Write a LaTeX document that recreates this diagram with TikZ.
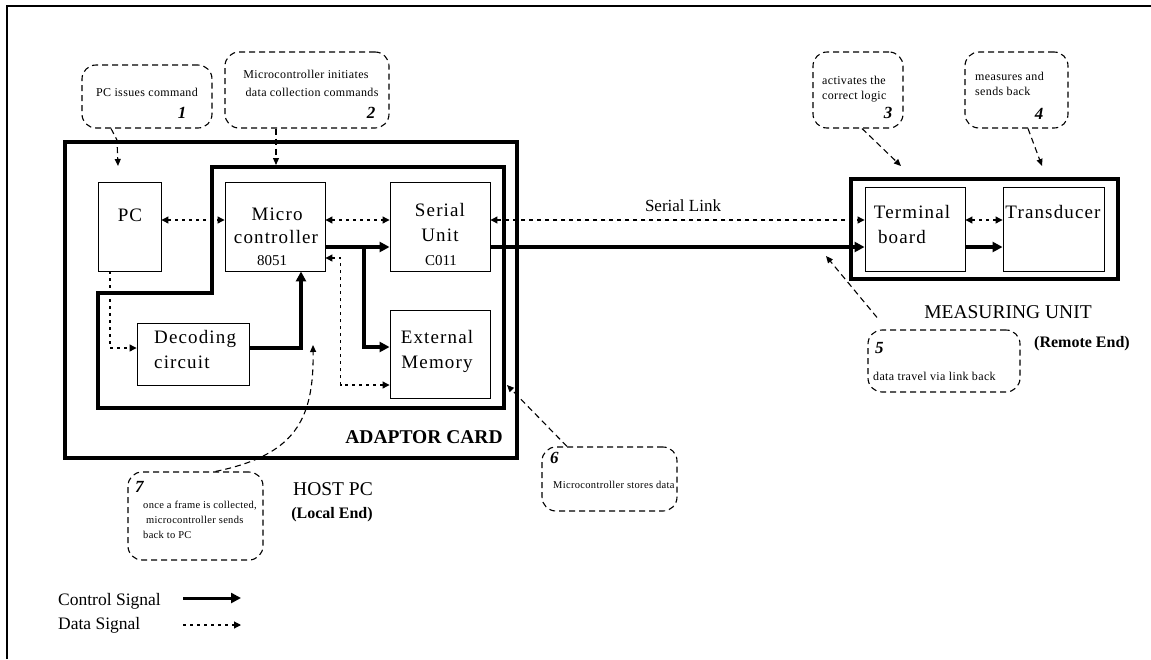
\documentclass[tikz,border=0pt]{standalone}
\usepackage{fontspec}
\setmainfont{Liberation Serif}
\usetikzlibrary{arrows.meta,calc}
\newcommand\bxf{\fontsize{19}{22}\selectfont\addfontfeature{LetterSpace=6}}
\newcommand\smf{\fontsize{15}{18}\selectfont}
\newcommand\cof{\fontsize{12}{14}\selectfont\addfontfeature{LetterSpace=3}}
\newcommand\csf{\fontsize{10.5}{13}\selectfont\addfontfeature{LetterSpace=3}}
\newcommand\nmf{\fontsize{17}{20}\selectfont\bfseries\itshape}
\newcommand\lbf{\fontsize{19.5}{23}\selectfont}
\newcommand\lbb{\fontsize{16}{19}\selectfont\bfseries}
\newcommand\lgf{\fontsize{17.5}{20}\selectfont}
\begin{document}
\begin{tikzpicture}[x=1pt,y=-1pt,
  frame/.style={draw, line width=3.5pt, inner sep=0pt},
  box/.style={draw, line width=0.9pt, inner sep=0pt},
  txt/.style={inner sep=0pt, anchor=base},
  ctrl/.style={line width=3.5pt, -{Triangle[length=10pt,width=10pt]}},
  data/.style={line width=1.1pt, dash pattern=on 3pt off 4pt, {Triangle[length=7pt,width=7pt]}-{Triangle[length=7pt,width=7pt]}},
  data1/.style={line width=1.1pt, dash pattern=on 3pt off 4pt, -{Triangle[length=7pt,width=7pt]}},
  callout/.style={draw, line width=1.1pt, dash pattern=on 6pt off 4pt, rounded corners=14pt, inner sep=0pt},
  pointer/.style={line width=1.1pt, dash pattern=on 6pt off 4pt, -{Triangle[length=7pt,width=6pt]}}]

\path[use as bounding box] (0,0) rectangle (1151,659);
\draw[line width=2pt] (7,659) -- (7,6) -- (1152,6);

% frames
\node[frame, minimum width=452pt, minimum height=316pt] (host) at (291,300) {};
\draw[line width=3.5pt] (212,167) -- (504,167) -- (504,408) -- (98,408) -- (98,293) -- (212,293) -- cycle;
\node[frame, line width=4pt, minimum width=267pt, minimum height=100pt] (meas) at (984.5,229) {};

% boxes
\node[box, minimum width=63pt, minimum height=89pt] (pc) at (129.5,226.5) {};
\node[box, minimum width=100pt, minimum height=89pt] (mc) at (275,226.5) {};
\node[box, minimum width=100pt, minimum height=89pt] (su) at (440,226.5) {};
\node[box, minimum width=100pt, minimum height=88pt] (em) at (440,354) {};
\node[box, minimum width=112pt, minimum height=62pt] (dc) at (193,354) {};
\node[box, minimum width=100pt, minimum height=84pt] (tb) at (915,229) {};
\node[box, minimum width=101pt, minimum height=84pt] (td) at (1053.5,229) {};

% box texts
\node[txt, font=\bxf] (pct) at (130,221) {PC};
\node[txt, font=\bxf] (mct1) at (277,220) {Micro};
\node[txt, font=\bxf] (mct2) at (276,243) {controller};
\node[txt, font=\smf] (mct3) at (272,265) {8051};
\node[txt, font=\bxf] (sut1) at (440,216) {Serial};
\node[txt, font=\bxf] (sut2) at (440,241) {Unit};
\node[txt, font=\smf] (sut3) at (441,265) {C011};
\node[txt, font=\bxf] (emt1) at (437,343) {External};
\node[txt, font=\bxf] (emt2) at (437,368) {Memory};
\node[txt, font=\bxf, anchor=base west] (dct1) at (154,343) {Decoding};
\node[txt, font=\bxf, anchor=base west] (dct2) at (154,368) {circuit};
\node[txt, font=\bxf] (tbt1) at (912,218) {Terminal};
\node[txt, font=\bxf] (tbt2) at (902,243) {board};
\node[txt, font=\bxf] (tdt) at (1053,218) {Transducer};

% labels
\node[txt, font=\lbf\bfseries] (adl) at (424,443) {ADAPTOR CARD};
\node[txt, font=\lbf] (hostl) at (333,495) {HOST PC};
\node[txt, font=\lbb] (locl) at (332,518) {(Local End)};
\node[txt, font=\lbf] (measl) at (1008,318) {MEASURING UNIT};
\node[txt, font=\lbb] (reml) at (1082,347) {(Remote End)};
\node[txt, font=\fontsize{17}{20}\selectfont] (sll) at (683,211) {Serial Link};

% data connectors
\coordinate (r1) at (0,220);
\coordinate (r2) at (0,247);
\draw[data] (pc.east |- r1) -- (mc.west |- r1);
\draw[data] (mc.east |- r1) -- (su.west |- r1);
\draw[data, dash pattern=on 4pt off 4pt] (su.east |- r1) -- (tb.west |- r1);
\draw[data] (tb.east |- r1) -- (td.west |- r1);
\draw[data1] ([xshift=-19.5pt]pc.south) |- ([yshift=6pt]dc.west);
\draw[data] ([yshift=-31pt]em.west) -- ++(-49,0) |- ([yshift=-31.5pt]mc.east);

% control connectors
\draw[ctrl] (mc.east |- r2) -- (su.west |- r2);
\coordinate (br) at (364,245.5);
\draw[ctrl] (br) |- ([yshift=7pt]em.west);
\draw[ctrl] (su.east |- r2) -- (tb.west |- r2);
\draw[ctrl] (tb.east |- r2) -- (td.west |- r2);
\draw[ctrl] ([yshift=6pt]dc.east) -| ([xshift=26pt]mc.south);

% callouts
\node[callout, minimum width=130pt, minimum height=63pt] (co1) at (147,96.5) {};
\node[callout, minimum width=164pt, minimum height=76pt] (co2) at (307,90) {};
\node[callout, minimum width=90pt, minimum height=76pt] (co3) at (858,90) {};
\node[callout, minimum width=103pt, minimum height=76pt] (co4) at (1016.5,90) {};
\node[callout, minimum width=152pt, minimum height=62pt] (co5) at (944,361) {};
\node[callout, minimum width=135pt, minimum height=64pt] (co6) at (609.5,479) {};
\node[callout, minimum width=135pt, minimum height=88pt] (co7) at (195.5,516) {};

\node[txt, font=\cof] (t1) at (147,96) {PC issues command};
\node[txt, font=\nmf] (n1) at (182,118) {1};
\node[txt, font=\cof] (t2a) at (306,78) {Microcontroller initiates};
\node[txt, font=\cof] (t2b) at (312,96) {data collection commands};
\node[txt, font=\nmf] (n2) at (371,118) {2};
\node[txt, font=\cof, anchor=base west] (t3a) at (822,84) {activates the};
\node[txt, font=\cof, anchor=base west] (t3b) at (822,99) {correct logic};
\node[txt, font=\nmf] (n3) at (888,118) {3};
\node[txt, font=\cof, anchor=base west] (t4a) at (975,80) {measures and};
\node[txt, font=\cof, anchor=base west] (t4b) at (975,95) {sends back};
\node[txt, font=\nmf] (n4) at (1039,119) {4};
\node[txt, font=\nmf, anchor=base west] (n5) at (875,353) {5};
\node[txt, font=\cof, anchor=base west] (t5) at (873,380) {data travel via link back};
\node[txt, font=\nmf, anchor=base west] (n6) at (550,463) {6};
\node[txt, font=\csf, anchor=base west] (t6) at (553,488) {Microcontroller stores data};
\node[txt, font=\nmf, anchor=base west] (n7) at (135,492) {7};
\node[txt, font=\csf, anchor=base west] (t7a) at (143,508) {once a frame is collected,};
\node[txt, font=\csf, anchor=base west] (t7b) at (146,523) {microcontroller sends};
\node[txt, font=\csf, anchor=base west] (t7c) at (143,538) {back to PC};

% pointers
\coordinate (p1) at (118,166);
\coordinate (p2) at (276,165);
\coordinate (p3) at (901,166);
\coordinate (p4) at (1042,166);
\coordinate (p5) at (826,256);
\coordinate (p6) at (507,385);
\coordinate (p7) at (313,345);
\draw[pointer] ([xshift=-36pt]co1.south) -- (117,140) -- (p1);
\draw[pointer] ([xshift=-31pt]co2.south) -- (p2);
\draw[pointer] ([xshift=4pt]co3.south) -- (p3);
\draw[pointer] ([xshift=11.5pt]co4.south) -- (p4);
\draw[pointer] ([xshift=-67pt,yshift=12pt]co5.north) -- (p5);
\draw[pointer] ([xshift=-42.5pt]co6.north) -- (p6);
\draw[pointer] ([xshift=20pt]co7.north) .. controls (295,455) and (314,420) .. (p7);

% legend
\node[txt, font=\lgf, anchor=base west] (lc) at (58,605) {Control Signal};
\node[txt, font=\lgf, anchor=base west] (ld) at (58,629) {Data Signal};
\coordinate (lc1) at (183,598);
\coordinate (lc2) at (241,598);
\coordinate (ld1) at (183,625);
\coordinate (ld2) at (241,625);
\draw[ctrl, line width=3pt] (lc1) -- (lc2);
\draw[data1] (ld1) -- (ld2);
\end{tikzpicture}
\end{document}
